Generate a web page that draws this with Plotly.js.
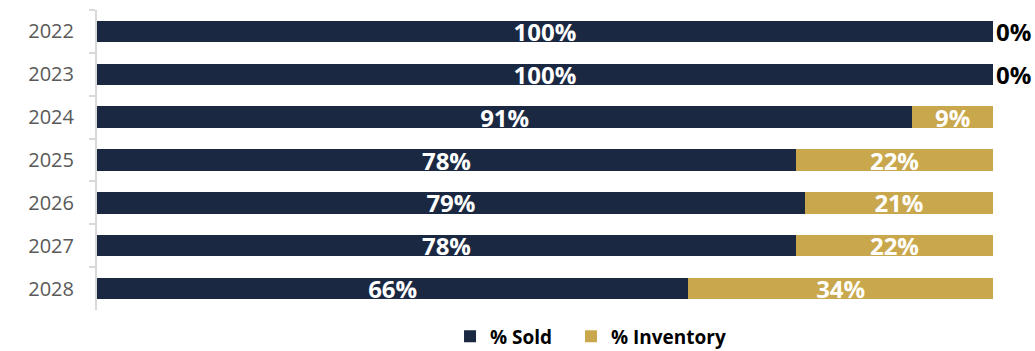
<!DOCTYPE html>
<html>
<head>
<meta charset="utf-8">
<script src="https://cdn.plot.ly/plotly-3.0.1.min.js"></script>
<style>html,body{margin:0;padding:0;background:#fff;}#chart{width:1035px;height:351px;}</style>
</head>
<body>
<div id="chart"></div>
<script>
const years = ['2022','2023','2024','2025','2026','2027','2028'];
const soldPct = [100, 100, 91, 78, 79, 78, 66];
const inventoryPct = [0, 0, 9, 22, 21, 22, 34];

const FAM = 'Open Sans, sans-serif';
const labelFont = {family: FAM, size: 24, color: '#ffffff', weight: 'bold'};

const traces = [
  {
    type: 'bar', orientation: 'h', name: '% Sold', legend: 'legend',
    y: years, x: soldPct,
    marker: {color: '#1b2842'},
    text: soldPct.map(v => v + '%'),
    textposition: 'inside', insidetextanchor: 'middle',
    textfont: labelFont, constraintext: 'none',
    hoverinfo: 'none'
  },
  {
    type: 'bar', orientation: 'h', name: '% Inventory', legend: 'legend2',
    y: years, x: inventoryPct,
    marker: {color: '#c9a74c'},
    text: inventoryPct.map(v => v + '%'),
    textposition: inventoryPct.map(v => v === 0 ? 'outside' : 'inside'),
    insidetextanchor: 'middle',
    textfont: {family: FAM, size: 24, weight: 'bold',
      color: inventoryPct.map(v => v === 0 ? '#000000' : '#ffffff')},
    outsidetextfont: {family: FAM, size: 24, weight: 'bold', color: '#000000'},
    constraintext: 'none', cliponaxis: false,
    hoverinfo: 'none'
  }
];

const legendFont = {family: FAM, size: 19, color: '#000000', weight: 'bold'};
const layout = {
  width: 1035, height: 351,
  margin: {l: 97, r: 42, t: 10, b: 41, autoexpand: false},
  barmode: 'stack', bargap: 0.5,
  paper_bgcolor: '#ffffff', plot_bgcolor: '#ffffff',
  showlegend: true,
  legend: {orientation: 'h', x: 0.394, xanchor: 'left', y: -0.088, yanchor: 'middle',
    font: legendFont, itemwidth: 30},
  legend2: {orientation: 'h', x: 0.529, xanchor: 'left', y: -0.088, yanchor: 'middle',
    font: legendFont, itemwidth: 30},
  xaxis: {range: [0, 100], showgrid: false, zeroline: false, showticklabels: false, showline: false, fixedrange: true},
  yaxis: {type: 'category', autorange: 'reversed', showgrid: false, zeroline: false,
    showline: true, linecolor: '#d9d9d9', linewidth: 2,
    ticks: 'outside', tickson: 'boundaries', ticklen: 6, tickcolor: '#d9d9d9', tickwidth: 2,
    tickfont: {family: FAM, size: 20, color: '#595959'},
    ticklabelstandoff: 17}
};

Plotly.newPlot('chart', traces, layout, {displayModeBar: false, staticPlot: true});
</script>
</body>
</html>
